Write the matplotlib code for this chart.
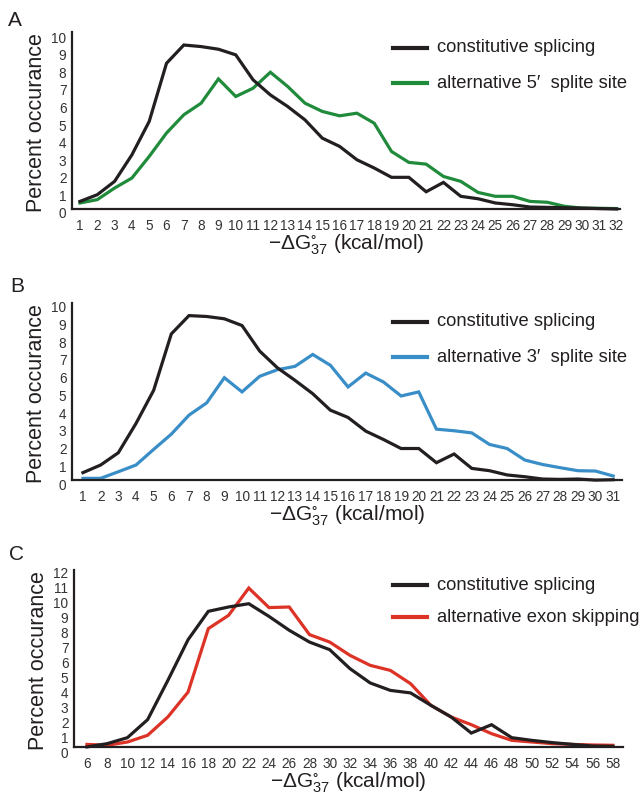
#! /usr/bin/env python3
import matplotlib
matplotlib.use('Agg')
import matplotlib.pyplot as plt

plt.rcParams['font.family'] = ['Liberation Sans', 'DejaVu Sans']
plt.rcParams['mathtext.fontset'] = 'custom'
plt.rcParams['mathtext.rm'] = 'Liberation Sans'
plt.rcParams['mathtext.it'] = 'Liberation Sans:italic'

# panel A: alternative 5' splice site
a_x = list(range(1, 33))
a_const = [0.66, 1.04, 1.80, 3.31, 5.21, 8.52, 9.56, 9.47, 9.32, 9.00,
           7.58, 6.72, 6.06, 5.30, 4.26, 3.79, 3.03, 2.56, 2.03, 2.03,
           1.21, 1.74, 0.95, 0.81, 0.57, 0.47, 0.34, 0.32, 0.30, 0.28,
           0.25, 0.23]
a_alt = [0.57, 0.76, 1.42, 1.99, 3.22, 4.55, 5.59, 6.25, 7.63, 6.63,
         7.10, 8.01, 7.20, 6.25, 5.78, 5.53, 5.68, 5.11, 3.50, 2.88,
         2.78, 2.08, 1.80, 1.17, 0.95, 0.95, 0.66, 0.61, 0.38, 0.28,
         0.27, 0.25]

# panel B: alternative 3' splice site
b_x = list(range(1, 32))
b_const = [0.64, 1.07, 1.76, 3.41, 5.28, 8.46, 9.49, 9.44, 9.31, 8.93,
           7.49, 6.55, 5.84, 5.09, 4.16, 3.75, 2.98, 2.51, 2.00, 2.00,
           1.20, 1.69, 0.88, 0.75, 0.51, 0.41, 0.28, 0.26, 0.28, 0.22,
           0.24]
b_alt = [0.32, 0.32, 0.69, 1.07, 1.95, 2.81, 3.88, 4.57, 5.99, 5.19,
         6.07, 6.44, 6.63, 7.30, 6.69, 5.47, 6.25, 5.75, 4.96, 5.19,
         3.09, 3.00, 2.88, 2.23, 2.00, 1.35, 1.10, 0.92, 0.75, 0.73,
         0.45]

# panel C: exon skipping
c_x = list(range(6, 59, 2))
c_const = [0.34, 0.56, 0.96, 2.17, 4.80, 7.53, 9.43, 9.72, 9.94, 9.09,
           8.16, 7.37, 6.86, 5.59, 4.63, 4.13, 3.96, 3.13, 2.35, 1.27,
           1.83, 0.96, 0.78, 0.63, 0.51, 0.40, 0.38]
c_alt = [0.51, 0.45, 0.67, 1.12, 2.35, 4.02, 8.27, 9.16, 10.99, 9.68,
         9.72, 7.87, 7.37, 6.48, 5.81, 5.47, 4.58, 3.13, 2.35, 1.83,
         1.23, 0.78, 0.67, 0.56, 0.51, 0.47, 0.45]

BLACK = '#231f20'
W, H = 644, 798


def panel(fig, box, x, const, alt, color, alt_label, letter, xlim, ytop,
          base, xticks, yticks, leg_y, letter_pos):
    left, top, right, bottom = box
    ax = fig.add_axes([left / W, 1 - bottom / H, (right - left) / W, (bottom - top) / H])
    ax.plot(x, const, color=BLACK, lw=2.3, solid_joinstyle='miter', zorder=3)
    ax.plot(x, alt, color=color, lw=2.3, solid_joinstyle='miter', zorder=2)
    ax.set_xlim(*xlim)
    ax.set_ylim(0, ytop)
    ax.spines['top'].set_visible(False)
    ax.spines['right'].set_visible(False)
    ax.spines['bottom'].set_position(('data', base))
    ax.spines['left'].set_bounds(base, ytop)
    for s in ('bottom', 'left'):
        ax.spines[s].set_linewidth(1.6)
        ax.spines[s].set_color(BLACK)
    ax.set_xticks(xticks)
    ax.set_yticks(yticks)
    ax.tick_params(length=0, labelsize=9.8, colors='#333333')
    ax.tick_params(axis='x', pad=7)
    ax.tick_params(axis='y', pad=4)
    ax.set_ylabel('Percent occurance', fontsize=15.5, color=BLACK, labelpad=3)
    ax.set_xlabel(r'$\mathregular{-\Delta G^{\circ}_{37}}$ (kcal/mol)',
                  fontsize=15, color=BLACK, labelpad=0)
    ax.patch.set_visible(False)

    # legend drawn by hand to match the loose layout
    for yy, c, lab in ((leg_y[0], BLACK, 'constitutive splicing'),
                       (leg_y[1], color, alt_label)):
        fig.lines.append(plt.Line2D([393 / W, 427 / W], [1 - yy / H, 1 - yy / H],
                                    color=c, lw=3, transform=fig.transFigure))
        fig.text(437 / W, 1 - yy / H, lab, fontsize=13.2, color=BLACK,
                 va='center', ha='left')
    fig.text(letter_pos[0] / W, 1 - letter_pos[1] / H, letter, fontsize=15,
             color=BLACK, va='center', ha='center')
    return ax


fig = plt.figure(figsize=(W / 100, H / 100), dpi=100)

panel(fig, (72, 32, 620, 213), a_x, a_const, a_alt, '#1f8b3b',
      'alternative 5\u2032  splite site', 'A', (0.54, 32.2), 10.3, 0.23,
      a_x, range(0, 11), (48, 83), (15, 20))
panel(fig, (72, 303, 622, 484), b_x, b_const, b_alt, '#3a8ec8',
      'alternative 3\u2032  splite site', 'B', (0.38, 31.5), 10.2, 0.22,
      b_x, range(0, 11), (322, 357), (17, 287))
panel(fig, (74, 570, 623, 752), c_x, c_const, c_alt, '#dd3226',
      'alternative exon skipping', 'C', (4.72, 59), 12.2, 0.33,
      c_x, range(0, 13), (585, 617), (17, 555))

fig.savefig('out.png', dpi=100)
